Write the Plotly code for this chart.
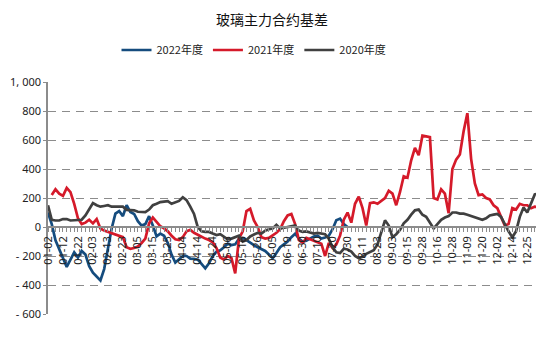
import plotly.graph_objects as go

tick_labels = ["01-02", "01-12", "01-22", "02-03", "02-13", "02-23", "03-05", "03-15",
               "03-25", "04-04", "04-14", "04-24", "05-06", "05-16", "05-26", "06-05",
               "06-19", "06-30", "07-10", "07-20", "07-30", "08-11", "08-23", "09-03",
               "09-15", "09-28", "10-16", "10-28", "11-09", "11-20", "12-02", "12-14",
               "12-25"]

basis_2022 = [100, 20, -92, -150, -220, -275, -225, -175, -210, -165,
              -190, -270, -315, -340, -368, -290, -150, -10, 92, 110,
              75, 150, 103, 90, 40, 10, 20, 75, 10, -65,
              -46, -60, -110, -190, -245, -225, -200, -200, -218, -220,
              -225, -255, -285, -250, -200, -170, -160, -140, -115, -125,
              -120, -80, -75, -90, -110, -125, -140, -155, -165, -190,
              -215, -180, -140, -120, -100, -70, -46, -80, -100, -95,
              -80, -65, -60, -80, -72, -60, -15, 46, 58, 20,
              0]

basis_2021 = [None, 220, 260, 230, 215, 270, 240, 160, 60, 20,
              30, 50, 25, 55, -10, -25, -35, -45, -55, -60,
              -70, -140, -150, -145, -135, -110, -80, 25, 65, 35,
              5, -10, -30, -60, -85, -90, -70, -30, -20, -40,
              -55, -65, -80, -90, -105, -145, -210, -225, -200, -215,
              -320, -80, -30, 110, 126, 45, 0, -70, -80, -75,
              -60, -40, -15, 40, 80, 90, 20, -90, -110, -75,
              -85, -95, -100, -115, -200, -110, -145, -120, -60, 50,
              100, 30, 160, 210, 130, 10, 165, 170, 160, 180,
              200, 250, 230, 150, 240, 350, 340, 460, 545, 495,
              630, 625, 620, 200, 190, 260, 230, 95, 400, 465,
              500, 660, 785, 470, 300, 220, 225, 200, 190, 150,
              130, 70, 10, 20, 130, 120, 160, 150, 150, 130,
              140, 138]

basis_2020 = [150, 50, 45, 45, 55, 55, 45, 45, 45, 50,
              80, 120, 165, 150, 140, 145, 150, 140, 140, 145,
              140, 118, 115, 115, 105, 103, 103, 120, 150, 160,
              172, 175, 178, 160, 168, 180, 205, 185, 140, 90,
              0, -30, -34, -34, -45, -55, -50, -65, -85, -80,
              -70, -60, -100, -90, -65, -55, -40, -45, -25, -15,
              -10, 15, -10, -5, 0, 10, 10, -25, -34, -30,
              -40, -45, -40, -45, -50, -80, -140, -175, -180, -150,
              -155, -170, -200, -215, -205, -185, -170, -160, -120, -40,
              46, 10, -70, -50, -20, 25, 50, 85, 115, 120,
              85, 70, 30, -10, 20, 50, 65, 75, 100, 100,
              92, 92, 85, 75, 65, 60, 50, 60, 80, 85,
              90, 70, 15, -30, -70, -30, 70, 135, 100, 160,
              225, 230]

y_tick_vals = [-600, -400, -200, 0, 200, 400, 600, 800, 1000]
y_tick_text = ["- 600", "- 400", "- 200", "0", "200", "400", "600", "800", "1, 000"]

series = [
    ("2022年度", basis_2022, "#154C7E"),
    ("2021年度", basis_2021, "#D51A2A"),
    ("2020年度", basis_2020, "#404040"),
]

fig = go.Figure()
for name, vals, color in series:
    fig.add_trace(go.Scatter(
        x=list(range(len(vals))), y=vals, name=name, mode="lines",
        line=dict(color=color, width=2.7), connectgaps=False,
    ))

tick_pos = list(range(0, 4 * len(tick_labels), 4))

# page body has an 8px margin, so the figure is laid out 8px smaller/shifted
W, H = 536, 352
fig.update_layout(
    width=W, height=H,
    margin=dict(l=39.5, r=4, t=74, b=46.3, autoexpand=False),
    paper_bgcolor="white", plot_bgcolor="white",
    font=dict(family="Noto Sans CJK SC, Noto Sans, sans-serif", color="#222222", size=11),
    title=dict(text="玻璃主力合约基差", x=264 / W, xanchor="center", xref="container",
               y=1 - 12 / H, yanchor="middle", yref="container",
               font=dict(size=14, color="#111111")),
    legend=dict(orientation="h", x=246 / W, xanchor="center", xref="container",
                y=1 - 42 / H, yanchor="middle", yref="container",
                font=dict(size=11, color="#222222"),
                itemwidth=30, tracegroupgap=0),
    showlegend=True,
)

fig.update_xaxes(
    range=[0, 131.4],
    tickmode="array", tickvals=tick_pos, ticktext=tick_labels,
    tickangle=-90, tickfont=dict(size=11, family="Noto Sans, sans-serif", color="#222222"),
    showgrid=False, zeroline=False, automargin=False,
    showline=True, linecolor="#8C8C8C", linewidth=1.5,
    ticks="outside", ticklen=4, tickcolor="#8C8C8C", tickwidth=1,
    minor=dict(dtick=1, tick0=0, ticks="outside", ticklen=4, tickcolor="#8C8C8C", tickwidth=1),
    anchor="free", position=600 / 1600,
)

fig.update_yaxes(
    range=[-600, 1000], automargin=False,
    tickmode="array", tickvals=y_tick_vals, ticktext=y_tick_text,
    tickfont=dict(size=11, family="Noto Sans, sans-serif", color="#222222"),
    showgrid=True, gridcolor="#8C8C8C", gridwidth=1.3, griddash="8px,6px",
    zeroline=False,
    showline=True, linecolor="#8C8C8C", linewidth=1.5,
    ticks="outside", ticklen=3, tickcolor="#8C8C8C",
)

fig.write_html("out.html")
